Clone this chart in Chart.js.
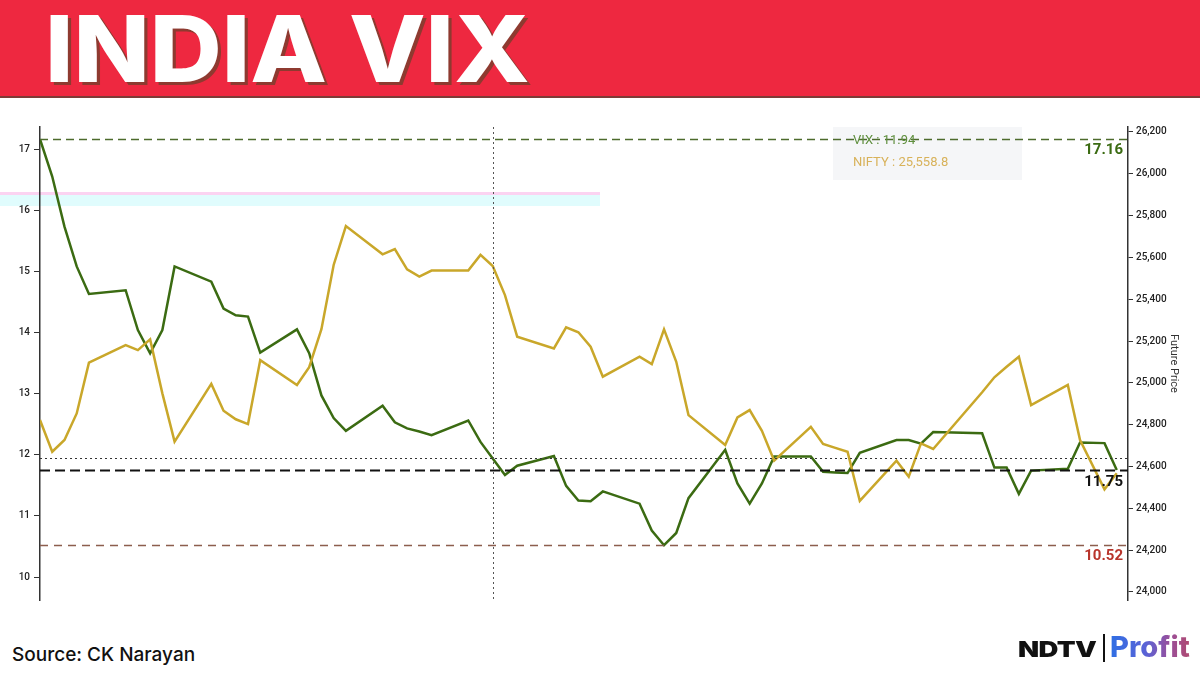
<!DOCTYPE html>
<html>
<head>
<meta charset="utf-8">
<title>India VIX</title>
<script src="https://cdn.jsdelivr.net/npm/chart.js@4.4.1/dist/chart.umd.min.js"></script>
<style>
  body { margin: 0; width: 1200px; height: 675px; background: #fff; overflow: hidden; position: relative; font-family: Inter, Roboto, sans-serif; }
  .header { position: absolute; left: 0; top: 0; width: 1200px; height: 96px; background: #ee2840; border-bottom: 2px solid #7d3b36; }
  .title { position: absolute; left: 45px; top: 3px; color: #fff; font-weight: 800; font-size: 92px; line-height: 92px; white-space: nowrap; text-shadow: 3px 3px 0 #8e3a30; transform-origin: left top; }
  .ghost-pink { position: absolute; left: 0; top: 192px; width: 600px; height: 3px; background: #fbd3f1; }
  .ghost-cyan { position: absolute; left: 0; top: 195px; width: 600px; height: 11px; background: #e0fcfd; }
  #wrap { position: absolute; left: 0; top: 100px; width: 1200px; height: 520px; }
  .source { position: absolute; left: 12px; top: 643px; font-size: 19px; font-weight: 500; color: #111; white-space: nowrap; }
  .logo { position: absolute; left: 1018px; top: 630px; height: 36px; white-space: nowrap; }
  .ndtv { position: absolute; left: 0; top: 8px; font-weight: 900; font-size: 22px; line-height: 22px; color: #111; transform: scaleX(1.25); transform-origin: left top; letter-spacing: -0.5px; }
  .bar { position: absolute; left: 85px; top: 4px; width: 2px; height: 28px; background: #111; }
  .profit { position: absolute; left: 92px; top: 2px; font-weight: 800; font-size: 29px; line-height: 30px; background: linear-gradient(90deg, #2f6fe4 0%, #5a62d6 45%, #9a4f9a 75%, #b04a70 100%); -webkit-background-clip: text; background-clip: text; color: transparent; }
</style>
</head>
<body>
<div class="header"><div class="title" id="title">INDIA VIX</div></div>
<div class="ghost-pink"></div>
<div class="ghost-cyan"></div>
<div id="wrap"><canvas id="vixChart" width="1200" height="520"></canvas></div>
<div class="source">Source: CK Narayan</div>
<div class="logo"><span class="ndtv">NDTV</span><span class="bar"></span><span class="profit">Profit</span></div>
<script>
// trading days (2025), India VIX close and Nifty futures price
const dates = [
  "2025-06-02", "2025-06-03", "2025-06-04", "2025-06-05", "2025-06-06",
  "2025-06-09", "2025-06-10", "2025-06-11", "2025-06-12", "2025-06-13",
  "2025-06-16", "2025-06-17", "2025-06-18", "2025-06-19", "2025-06-20",
  "2025-06-23", "2025-06-24", "2025-06-25", "2025-06-26", "2025-06-27",
  "2025-06-30", "2025-07-01", "2025-07-02", "2025-07-03", "2025-07-04",
  "2025-07-07", "2025-07-08", "2025-07-09", "2025-07-10", "2025-07-11",
  "2025-07-14", "2025-07-15", "2025-07-16", "2025-07-17", "2025-07-18",
  "2025-07-21", "2025-07-22", "2025-07-23", "2025-07-24", "2025-07-25",
  "2025-07-28", "2025-07-29", "2025-07-30", "2025-07-31", "2025-08-01",
  "2025-08-04", "2025-08-05", "2025-08-06", "2025-08-07", "2025-08-08",
  "2025-08-11", "2025-08-12", "2025-08-13", "2025-08-14",
  "2025-08-18", "2025-08-19", "2025-08-20", "2025-08-21", "2025-08-22",
  "2025-08-25", "2025-08-26", "2025-08-28", "2025-08-29"
];
const vix = [
  17.16, 16.55, 15.73, 15.08, 14.63,
  14.69, 14.04, 13.66, 14.04, 15.08,
  14.83, 14.39, 14.28, 14.26, 13.67,
  14.05, 13.66, 12.97, 12.60, 12.39,
  12.80, 12.53, 12.43, 12.38, 12.32,
  12.56, 12.21, 11.94, 11.67, 11.82,
  11.98, 11.49, 11.25, 11.24, 11.40,
  11.20, 10.76, 10.52, 10.72, 11.29,
  12.08, 11.53, 11.20, 11.53, 11.97,
  11.97, 11.72, 11.71, 11.70, 12.03,
  12.24, 12.24, 12.18, 12.37,
  12.35, 11.79, 11.79, 11.36, 11.74,
  11.77, 12.20, 12.19, 11.75
];
const nifty = [
  24823, 24671, 24727, 24854, 25097,
  25181, 25157, 25208, 24950, 24719,
  24995, 24867, 24826, 24803, 25109,
  24990, 25075, 25257, 25564, 25750,
  25615, 25640, 25543, 25508, 25537,
  25537, 25612, 25558.8, 25420, 25221,
  25165, 25266, 25242, 25173, 25030,
  25125, 25090, 25256, 25101, 24846,
  24703, 24835, 24870, 24771, 24628,
  24790, 24708, 24689, 24671, 24436,
  24628, 24551, 24711, 24684,
  24955, 25027, 25077, 25125, 24894,
  24990, 24727, 24491, 24568
];
// marked levels
const vixHigh = 17.16;
const vixLast = 11.75;
const vixLow = 10.52;
const cursorDate = "2025-07-09";
const cursorVix = 11.94;
const cursorNifty = 25558.8;

const greenColor = "#3b6b12";
const goldColor = "#c9a72a";

function dayOffset(d) {
  return (Date.parse(d) - Date.parse(dates[0])) / 86400000;
}

// fit big title to its width in the reference
document.fonts.ready.then(function () {
  let t = document.getElementById("title");
  let w = t.getBoundingClientRect().width;
  t.style.transform = "scaleX(" + (485 / w) + ")";
});

const overlay = {
  id: "overlay",
  beforeDatasetsDraw(chart) {
    const ctx = chart.ctx;
    // hover box
    ctx.save();
    ctx.fillStyle = "#f5f6f8";
    ctx.fillRect(833, 27, 189, 53);
    ctx.restore();
  },
  afterDatasetsDraw(chart) {
    const { ctx, chartArea: a, scales } = chart;
    const y = scales.y;
    const x = scales.x;

    function hline(v, color, width, dash) {
      const py = Math.round(y.getPixelForValue(v)) + 0.5;
      ctx.save();
      ctx.strokeStyle = color;
      ctx.lineWidth = width;
      ctx.setLineDash(dash);
      ctx.beginPath();
      ctx.moveTo(a.left, py);
      ctx.lineTo(a.right, py);
      ctx.stroke();
      ctx.restore();
      return py;
    }
    function label(text, py, color) {
      ctx.save();
      ctx.font = "bold 15px Roboto";
      ctx.fillStyle = color;
      ctx.textAlign = "right";
      ctx.textBaseline = "middle";
      ctx.fillText(text, a.right - 5, py);
      ctx.restore();
    }

    const yHigh = hline(vixHigh, "#4d6b2c", 1.5, [8, 5]);
    hline(cursorVix, "#333", 1, [2, 3]);
    const yLast = hline(vixLast, "#111", 2, [10, 5]);
    const yLow = hline(vixLow, "#8c5e4e", 1.5, [8, 6]);

    // vertical cursor
    const cx = Math.round(x.getPixelForValue(dayOffset(cursorDate))) + 0.5;
    ctx.save();
    ctx.strokeStyle = "#555";
    ctx.lineWidth = 1;
    ctx.setLineDash([2, 3]);
    ctx.beginPath();
    ctx.moveTo(cx, a.top);
    ctx.lineTo(cx, a.bottom);
    ctx.stroke();
    ctx.restore();

    label(vixHigh.toFixed(2), yHigh + 11, "#3b6b12");
    label(vixLast.toFixed(2), yLast + 12, "#111");
    label(vixLow.toFixed(2), yLow + 11, "#b8342b");

    // hover text
    ctx.save();
    ctx.font = "13px Roboto";
    ctx.textBaseline = "middle";
    ctx.fillStyle = "#5f8f3e";
    ctx.fillText("VIX : " + cursorVix.toFixed(2), 853, 41);
    ctx.fillStyle = "#d8b25a";
    ctx.fillText("NIFTY : " + cursorNifty.toLocaleString("en-US", { minimumFractionDigits: 1 }), 853, 63);
    ctx.restore();
  }
};

document.addEventListener("DOMContentLoaded", function () {
  const ctx = document.getElementById("vixChart");

  const data = {
    datasets: [
      {
        label: "NIFTY",
        data: dates.map((d, i) => ({ x: dayOffset(d), y: nifty[i] })),
        yAxisID: "y1",
        borderColor: goldColor,
        borderWidth: 2.5,
        pointRadius: 0,
        tension: 0,
      },
      {
        label: "VIX",
        data: dates.map((d, i) => ({ x: dayOffset(d), y: vix[i] })),
        yAxisID: "y",
        borderColor: greenColor,
        borderWidth: 2.5,
        pointRadius: 0,
        tension: 0,
      },
    ],
  };

  const config = {
    type: "line",
    data: data,
    options: {
      responsive: false,
      animation: false,
      layout: { padding: { top: 27, bottom: 20, left: 0, right: 16 } },
      scales: {
        x: { type: "linear", display: false, min: 0, max: 88.92 },
        y: {
          position: "left",
          min: 9.624,
          max: 17.36,
          ticks: { stepSize: 1, includeBounds: false, color: "#222", padding: 4, font: { family: "Roboto", size: 10, weight: "500" } },
          grid: { drawOnChartArea: false, tickLength: 6, color: "#333" },
          border: { color: "#333", width: 1.5 },
          afterFit: function (s) { s.width = 40; },
        },
        y1: {
          position: "right",
          min: 23961.7,
          max: 26223.9,
          ticks: {
            stepSize: 200, includeBounds: false, color: "#222", padding: 3,
            font: { family: "Roboto", size: 10, weight: "500" },
            callback: (v) => v.toLocaleString("en-US"),
          },
          grid: { drawOnChartArea: false, tickLength: 5, color: "#333" },
          border: { color: "#333", width: 1.5 },
          title: { display: true, text: "Future Price", color: "#333", font: { family: "Roboto", size: 11 } },
          afterFit: function (s) { s.width = 56; },
        },
      },
      plugins: {
        legend: { display: false },
        tooltip: { enabled: false },
      },
    },
    plugins: [overlay],
  };

  const vixChart = new Chart(ctx, config);
});
</script>
</body>
</html>
